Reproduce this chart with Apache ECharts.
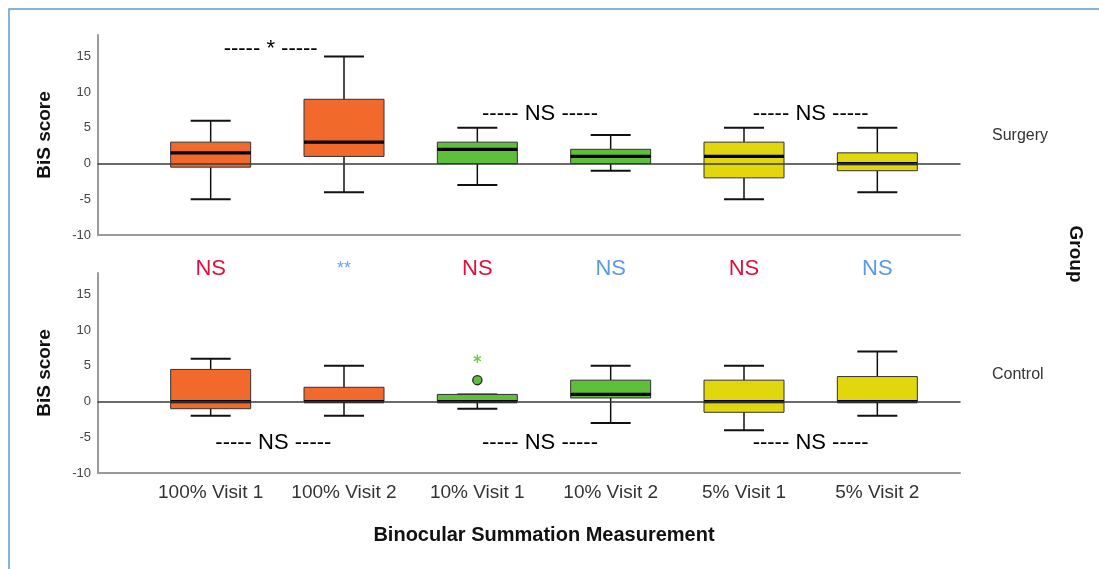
<!DOCTYPE html>
<html>
<head>
<meta charset="utf-8">
<script src="https://cdn.jsdelivr.net/npm/echarts@6/dist/echarts.min.js"></script>
<style>
  html, body { margin: 0; padding: 0; background: #ffffff; }
  #chart { width: 1099px; height: 569px; }
</style>
</head>
<body>
<div id="chart"></div>
<script>
// Binocular summation (BiS) scores by measurement, split by group
const categories = ['100% Visit 1', '100% Visit 2', '10% Visit 1', '10% Visit 2', '5% Visit 1', '5% Visit 2'];

// box statistics: [min, Q1, median, Q3, max]
const surgeryStats = [
  [-5, -0.5, 1.5, 3, 6],
  [-4, 1, 3, 9, 15],
  [-3, 0, 2, 3, 5],
  [-1, 0, 1, 2, 4],
  [-5, -2, 1, 3, 5],
  [-4, -1, 0, 1.5, 5]
];
const controlStats = [
  [-2, -1, 0, 4.5, 6],
  [-2, 0, 0, 2, 5],
  [-1, 0, 0, 1, 1],
  [-3, 0.5, 1, 3, 5],
  [-4, -1.5, 0, 3, 5],
  [-2, 0, 0, 3.5, 7]
];
// [category index, value]
const controlOutliers = [[2, 3]];
const controlExtremes = [[2, 6]];

const yMin = -10, yMax = 18, yStep = 5;
const groupNames = ['Surgery', 'Control'];

// within-group comparisons: [label, position along categories, score level]
const surgeryTests = [['----- * -----', 0.45, 16], ['----- NS -----', 2.47, 6.9], ['----- NS -----', 4.5, 6.9]];
const controlTests = [['----- NS -----', 0.47, -5.8], ['----- NS -----', 2.47, -5.8], ['----- NS -----', 4.5, -5.8]];
// between-group comparison per category
const betweenTests = ['NS', '**', 'NS', 'NS', 'NS', 'NS'];
const betweenLevel = 18.5;

const boxColors = ['#F26A2B', '#F26A2B', '#5DBF3A', '#5DBF3A', '#E2D70C', '#E2D70C'];
const betweenColors = ['#E0103E', '#6AA6EC', '#E0103E', '#5B9BE6', '#E0103E', '#5B9BE6'];
const FONT = '"Liberation Sans", Arial, sans-serif';

const chart = echarts.init(document.getElementById('chart'), null, { renderer: 'canvas' });

function line(x1, y1, x2, y2, w, c) {
  return { type: 'line', shape: { x1, y1, x2, y2 }, style: { stroke: c, lineWidth: w } };
}

function renderBox(params, api) {
  const i = api.value(0);
  const pLo = api.coord([i, api.value(1)]);
  const pQ1 = api.coord([i, api.value(2)]);
  const pMed = api.coord([i, api.value(3)]);
  const pQ3 = api.coord([i, api.value(4)]);
  const pHi = api.coord([i, api.value(5)]);
  const band = api.size([1, 0])[0];
  const bw = band * 0.6;
  const cap = bw * 0.5;
  const cx = pMed[0];
  return {
    type: 'group',
    children: [
      line(cx, pHi[1], cx, pQ3[1], 1.5, '#111'),
      line(cx, pQ1[1], cx, pLo[1], 1.5, '#111'),
      line(cx - cap / 2, pHi[1], cx + cap / 2, pHi[1], 2, '#111'),
      line(cx - cap / 2, pLo[1], cx + cap / 2, pLo[1], 2, '#111'),
      {
        type: 'rect',
        shape: { x: cx - bw / 2, y: pQ3[1], width: bw, height: pQ1[1] - pQ3[1] },
        style: { fill: boxColors[i], stroke: '#333', lineWidth: 1 }
      },
      line(cx - bw / 2, pMed[1], cx + bw / 2, pMed[1], 3.2, '#000')
    ]
  };
}

function textRenderer(labels, colorOf, size) {
  return function (params, api) {
    const p = api.coord([api.value(0), api.value(1)]);
    const idx = params.dataIndex;
    return {
      type: 'text',
      x: p[0],
      y: p[1],
      style: {
        text: labels[idx],
        fill: colorOf(idx),
        font: size + 'px ' + FONT,
        align: 'center',
        verticalAlign: 'middle',
        textAlign: 'center',
        textVerticalAlign: 'middle'
      }
    };
  };
}

function renderOutlier(params, api) {
  const p = api.coord([api.value(0), api.value(1)]);
  return {
    type: 'circle',
    shape: { cx: p[0], cy: p[1], r: 4.6 },
    style: { fill: '#5DBF3A', stroke: '#2a2a2a', lineWidth: 1.3 }
  };
}

function renderExtreme(params, api) {
  const p = api.coord([api.value(0), api.value(1)]);
  const r = 4.2;
  const kids = [];
  [90, 30, 150].forEach(function (deg) {
    const a = deg * Math.PI / 180;
    const dx = Math.cos(a) * r, dy = Math.sin(a) * r;
    kids.push(line(p[0] - dx, p[1] - dy, p[0] + dx, p[1] + dy, 1.4, '#6CCB4C'));
  });
  return { type: 'group', children: kids };
}

const grids = [
  { left: 98, top: 35, width: 862, height: 200 },   // surgery frame
  { left: 144, top: 35, width: 800, height: 200 },  // surgery boxes
  { left: 98, top: 273, width: 862, height: 200 },  // control frame
  { left: 144, top: 273, width: 800, height: 200 }  // control boxes
];

function frameBottomAxis(gi) {
  return {
    type: 'value', gridIndex: gi, min: 0, max: 1, position: 'bottom',
    axisLine: { show: true, onZero: false, lineStyle: { color: '#9a9a9a', width: 2 } },
    axisTick: { show: false }, axisLabel: { show: false }, splitLine: { show: false }
  };
}
function zeroAxis(gi) {
  return {
    type: 'value', gridIndex: gi, min: 0, max: 1, position: 'top', z: 5,
    axisLine: { show: true, onZero: true, lineStyle: { color: '#3a3a3a', width: 1.5 } },
    axisTick: { show: false }, axisLabel: { show: false }, splitLine: { show: false }
  };
}
function categoryAxis(gi, showLabels) {
  return {
    type: 'category', gridIndex: gi, data: categories, position: 'bottom',
    axisLine: { show: false, onZero: false }, axisTick: { show: false },
    axisLabel: { show: showLabels, color: '#333', fontFamily: FONT, fontSize: 19, margin: 10, interval: 0 },
    splitLine: { show: false },
    name: showLabels ? 'Binocular Summation Measurement' : '',
    nameLocation: 'middle', nameGap: 52,
    nameTextStyle: { color: '#111', fontFamily: FONT, fontSize: 20, fontWeight: 'bold' }
  };
}
function placementAxis(gi) {
  return {
    type: 'value', gridIndex: gi, min: -0.5, max: 5.5, position: 'top', show: false,
    axisLine: { onZero: false }
  };
}
function frameYAxis(gi) {
  return {
    type: 'value', gridIndex: gi, min: yMin, max: yMax, interval: yStep,
    axisLine: { show: true, onZero: false, lineStyle: { color: '#9a9a9a', width: 2 } },
    axisTick: { show: false }, splitLine: { show: false },
    axisLabel: { color: '#444', fontFamily: FONT, fontSize: 13, margin: 7, showMaxLabel: false },
    name: 'BiS score', nameLocation: 'middle', nameGap: 44,
    nameTextStyle: { color: '#111', fontFamily: FONT, fontSize: 19, fontWeight: 'bold' }
  };
}
function hiddenYAxis(gi) {
  return { type: 'value', gridIndex: gi, min: yMin, max: yMax, show: false, axisLine: { onZero: false } };
}

const option = {
  animation: false,
  backgroundColor: '#ffffff',
  grid: grids,
  xAxis: [
    frameBottomAxis(0), zeroAxis(0), categoryAxis(1, false), placementAxis(1),
    frameBottomAxis(2), zeroAxis(2), categoryAxis(3, true), placementAxis(3)
  ],
  yAxis: [frameYAxis(0), hiddenYAxis(1), frameYAxis(2), hiddenYAxis(3)],
  series: [
    {
      type: 'custom', name: groupNames[0], xAxisIndex: 2, yAxisIndex: 1,
      renderItem: renderBox,
      encode: { x: 0, y: [1, 2, 3, 4, 5] },
      data: surgeryStats.map(function (s, i) { return [i].concat(s); })
    },
    {
      type: 'custom', name: groupNames[1], xAxisIndex: 6, yAxisIndex: 3,
      renderItem: renderBox,
      encode: { x: 0, y: [1, 2, 3, 4, 5] },
      data: controlStats.map(function (s, i) { return [i].concat(s); })
    },
    {
      type: 'custom', xAxisIndex: 6, yAxisIndex: 3, z: 4,
      renderItem: renderOutlier, encode: { x: 0, y: 1 }, data: controlOutliers
    },
    {
      type: 'custom', xAxisIndex: 6, yAxisIndex: 3, z: 4,
      renderItem: renderExtreme, encode: { x: 0, y: 1 }, data: controlExtremes
    },
    {
      type: 'custom', xAxisIndex: 3, yAxisIndex: 1, z: 6,
      renderItem: textRenderer(surgeryTests.map(function (t) { return t[0]; }), function () { return '#000'; }, 22),
      encode: { x: 0, y: 1 },
      data: surgeryTests.map(function (t) { return [t[1], t[2]]; })
    },
    {
      type: 'custom', xAxisIndex: 7, yAxisIndex: 3, z: 6,
      renderItem: textRenderer(controlTests.map(function (t) { return t[0]; }), function () { return '#000'; }, 22),
      encode: { x: 0, y: 1 },
      data: controlTests.map(function (t) { return [t[1], t[2]]; })
    },
    {
      type: 'custom', xAxisIndex: 7, yAxisIndex: 3, z: 6,
      renderItem: function (params, api) {
        const el = textRenderer(betweenTests, function (i) { return betweenColors[i]; }, 22)(params, api);
        if (betweenTests[params.dataIndex] === '**') el.style.font = '18px ' + FONT;
        return el;
      },
      encode: { x: 0, y: 1 },
      data: betweenTests.map(function (t, i) { return [i, betweenLevel]; })
    }
  ],
  graphic: [
    {
      type: 'polyline', silent: true,
      shape: { points: [[9, 569], [9, 9], [1099, 9]] },
      style: { fill: 'none', stroke: '#5B9BD5', lineWidth: 1.5 }
    },
    {
      type: 'text', left: 992, top: 128,
      style: { text: groupNames[0], fill: '#333', font: '16px ' + FONT }
    },
    {
      type: 'text', left: 992, top: 367,
      style: { text: groupNames[1], fill: '#333', font: '16px ' + FONT }
    },
    {
      type: 'text', x: 1075, y: 254, rotation: -Math.PI / 2,
      style: {
        text: 'Group', fill: '#111', font: 'bold 19px ' + FONT,
        align: 'center', verticalAlign: 'middle', textAlign: 'center', textVerticalAlign: 'middle'
      }
    }
  ]
};

chart.setOption(option);
</script>
</body>
</html>
